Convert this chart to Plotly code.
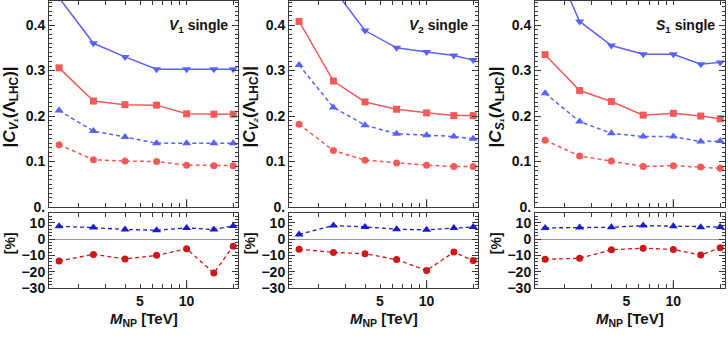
import plotly.graph_objects as go

# M_NP values in TeV (shared by all panels)
m_np = [1.5, 2.5, 4, 6.4, 10, 15, 20]

# V1 single
v1_blue_solid = [0.46, 0.36, 0.33, 0.303, 0.303, 0.303, 0.303]
v1_red_solid = [0.306, 0.233, 0.225, 0.224, 0.205, 0.204, 0.204]
v1_blue_dash = [0.212, 0.167, 0.154, 0.140, 0.140, 0.140, 0.140]
v1_red_dash = [0.137, 0.104, 0.101, 0.100, 0.092, 0.091, 0.091]
v1_blue_pct = [7.8, 7.0, 5.8, 5.4, 6.8, 5.8, 8.0]
v1_red_pct = [-13.4, -9.4, -12.2, -10.0, -6.0, -20.8, -4.4]

# V2 single
v2_blue_solid = [0.62, 0.48, 0.388, 0.350, 0.341, 0.333, 0.323]
v2_red_solid = [0.408, 0.277, 0.231, 0.215, 0.207, 0.201, 0.201]
v2_blue_dash = [0.312, 0.219, 0.180, 0.161, 0.158, 0.155, 0.150]
v2_red_dash = [0.182, 0.124, 0.103, 0.097, 0.092, 0.089, 0.089]
v2_blue_pct = [2.8, 8.2, 7.4, 6.0, 5.6, 6.8, 7.4]
v2_red_pct = [-6.2, -8.2, -9.0, -12.6, -19.2, -8.0, -13.2]

# S1 single
s1_blue_solid = [0.58, 0.408, 0.355, 0.336, 0.336, 0.314, 0.318]
s1_red_solid = [0.335, 0.256, 0.232, 0.202, 0.206, 0.200, 0.194]
s1_blue_dash = [0.250, 0.188, 0.162, 0.155, 0.155, 0.144, 0.145]
s1_red_dash = [0.147, 0.112, 0.101, 0.089, 0.091, 0.088, 0.085]
s1_blue_pct = [6.8, 7.0, 7.2, 8.2, 7.8, 7.2, 7.4]
s1_red_pct = [-12.4, -11.8, -6.6, -5.6, -6.4, -9.8, -5.4]

panels = [
    ("<i>V</i><sub>1</sub> single", "V₁",
     v1_blue_solid, v1_red_solid, v1_blue_dash, v1_red_dash, v1_blue_pct, v1_red_pct),
    ("<i>V</i><sub>2</sub> single", "V₂",
     v2_blue_solid, v2_red_solid, v2_blue_dash, v2_red_dash, v2_blue_pct, v2_red_pct),
    ("<i>S</i><sub>1</sub> single", "S₁",
     s1_blue_solid, s1_red_solid, s1_blue_dash, s1_red_dash, s1_blue_pct, s1_red_pct),
]

W, H = 728, 340
col_px = [(49, 238), (289, 478), (535, 725)]
top_px = (1, 212)
bot_px = (218, 295)

BLUE = "#5a62f2"
RED = "#f25a5a"
DBLUE = "#1c1cc8"
DRED = "#cc1818"
FRAME = "#3a3a3a"
FONT = "Liberation Sans"
DASH = "4px,3px"

fig = go.Figure()


def ydom(px):
    return [1 - px[1] / H, 1 - px[0] / H]


def ax_id(n):
    return "" if n == 1 else str(n)


def note(text, x, y, size, angle=0, xanchor="center"):
    fig.add_annotation(text=text, xref="paper", yref="paper", x=x / W, y=1 - y / H,
                       xanchor=xanchor, yanchor="middle", textangle=angle, showarrow=False,
                       font=dict(family=FONT, size=size, color="#111", weight="bold"))


common_x = dict(
    type="log", range=[0.111, 1.332],
    showline=True, linecolor=FRAME, linewidth=1, mirror="ticks",
    ticks="inside", ticklen=4, tickcolor=FRAME, showgrid=False, zeroline=False,
    tickvals=[5, 10], ticktext=["5", "10"],
    minor=dict(ticks="inside", ticklen=4, tickcolor=FRAME,
               tickvals=[2, 3, 4, 6, 7, 8, 9, 20], showgrid=False),
    tickfont=dict(family=FONT, size=14, color="#111", weight="bold"),
)

for i, (label, sym, bs, rs, bd, rd, bp, rp) in enumerate(panels):
    nt, nb = i + 1, i + 4
    xt, yt = "x" + ax_id(nt), "y" + ax_id(nt)
    xb, yb = "x" + ax_id(nb), "y" + ax_id(nb)
    x0, x1 = col_px[i]
    xdom = [x0 / W, x1 / W]

    fig.add_trace(go.Scatter(x=m_np, y=bs, mode="lines+markers", xaxis=xt, yaxis=yt,
                             line=dict(color=BLUE, width=1.5),
                             marker=dict(symbol="triangle-down", size=8, color=BLUE)))
    fig.add_trace(go.Scatter(x=m_np, y=rs, mode="lines+markers", xaxis=xt, yaxis=yt,
                             line=dict(color=RED, width=1.5),
                             marker=dict(symbol="square", size=7, color=RED)))
    fig.add_trace(go.Scatter(x=m_np, y=bd, mode="lines+markers", xaxis=xt, yaxis=yt,
                             line=dict(color=BLUE, width=1.5, dash=DASH),
                             marker=dict(symbol="triangle-up", size=8, color=BLUE)))
    fig.add_trace(go.Scatter(x=m_np, y=rd, mode="lines+markers", xaxis=xt, yaxis=yt,
                             line=dict(color=RED, width=1.5, dash=DASH),
                             marker=dict(symbol="circle", size=7, color=RED)))
    fig.add_trace(go.Scatter(x=m_np, y=bp, mode="lines+markers", xaxis=xb, yaxis=yb,
                             line=dict(color=DBLUE, width=1.3, dash=DASH),
                             marker=dict(symbol="triangle-up", size=8, color=DBLUE)))
    fig.add_trace(go.Scatter(x=m_np, y=rp, mode="lines+markers", xaxis=xb, yaxis=yb,
                             line=dict(color=DRED, width=1.3, dash=DASH),
                             marker=dict(symbol="circle", size=7, color=DRED)))

    fig.layout["xaxis" + ax_id(nt)] = dict(common_x, domain=xdom, anchor=yt, showticklabels=False)
    fig.layout["xaxis" + ax_id(nb)] = dict(common_x, domain=xdom, anchor=yb, showticklabels=True)
    fig.layout["yaxis" + ax_id(nt)] = dict(
        domain=ydom(top_px), anchor=xt, range=[0, 0.453],
        showline=True, linecolor=FRAME, linewidth=1, mirror="ticks",
        ticks="inside", ticklen=6, tickcolor=FRAME, showgrid=False, zeroline=False,
        tickvals=[0, 0.1, 0.2, 0.3, 0.4], ticktext=["0.", "0.1", "0.2", "0.3", "0.4"],
        minor=dict(ticks="inside", ticklen=3, tickcolor=FRAME, dtick=0.01, showgrid=False),
        tickfont=dict(family=FONT, size=14, color="#111", weight="bold"),
    )
    fig.layout["yaxis" + ax_id(nb)] = dict(
        domain=ydom(bot_px), anchor=xb, range=[-30, 16],
        showline=True, linecolor=FRAME, linewidth=1, mirror="ticks",
        ticks="inside", ticklen=6, tickcolor=FRAME, showgrid=False,
        zeroline=True, zerolinecolor="#999", zerolinewidth=1,
        tickvals=[-30, -20, -10, 0, 10],
        minor=dict(ticks="inside", ticklen=3, tickcolor=FRAME, dtick=2, showgrid=False),
        tickfont=dict(family=FONT, size=14, color="#111", weight="bold"),
    )

    # longer tick at 10 TeV on the bottom frames
    for xa, ya, hpx in ((xt, yt, top_px[1] - top_px[0]), (xb, yb, bot_px[1] - bot_px[0])):
        fig.add_shape(type="line", xref=xa, yref=ya + " domain", x0=10, x1=10,
                      y0=0, y1=8 / hpx, line=dict(color=FRAME, width=1.2))

    note(label, x1 - 8, 27, 14, xanchor="right")
    note(f"|<i>C</i><sub><i>{sym}</i></sub>(Λ<sub>LHC</sub>)|", x0 - 38, 110, 17, angle=-90)
    note("[%]", x0 - 39, 249, 14, angle=-90)
    note("<i>M</i><sub>NP</sub> [TeV]", (x0 + x1) / 2, 327, 15)

fig.update_layout(
    width=W, height=H, margin=dict(l=0, r=0, t=0, b=0),
    paper_bgcolor="white", plot_bgcolor="white", showlegend=False, hovermode=False,
)

fig.write_html("out.html", config={"displayModeBar": False},
               post_script="document.body.style.margin = '0';")
